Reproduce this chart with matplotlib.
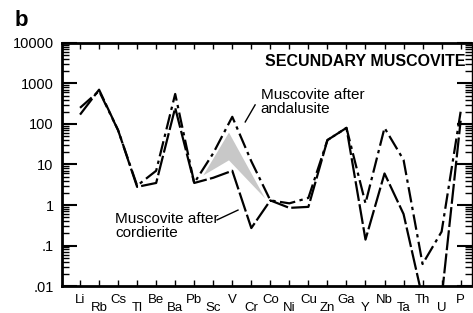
#!/usr/bin/env python3
import matplotlib
matplotlib.use("Agg")
import matplotlib.pyplot as plt
import numpy as np
from matplotlib.ticker import FixedLocator, LogLocator, NullFormatter

plt.rcParams['font.family'] = ['Liberation Sans', 'DejaVu Sans']

# Elements along the x axis
elements = ['Li', 'Rb', 'Cs', 'Tl', 'Be', 'Ba', 'Pb', 'Sc', 'V', 'Cr', 'Co',
            'Ni', 'Cu', 'Zn', 'Ga', 'Y', 'Nb', 'Ta', 'Th', 'U', 'P']

# Enrichment values
andalusite = [250, 650, 70, 3, 7, 550, 3.5, 19, 150, 12, 1.3,
              1.1, 1.5, 40, 80, 1.1, 80, 13, 0.035, 0.22, 200]
cordierite = [170, 700, 70, 2.8, 3.5, 250, 3.5, 4.7, 7, 0.27, 1.3,
              0.85, 0.9, 40, 80, 0.14, 6, 0.6, 0.005, 0.005, 120]

# Grey field between the two patterns
field_x = [6.45, 7.8, 9.7]
field_top = [5.5, 63, 1.5]
field_bottom = [5.5, 13, 1.5]

y_ticks = [0.01, 0.1, 1, 10, 100, 1000, 10000]
y_labels = ['.01', '.1', '1', '10', '100', '1000', '10000']

fig = plt.figure(figsize=(4.73, 3.13), dpi=100)
ax = fig.add_axes([0.131, 0.086, 0.867, 0.777])

x = np.arange(len(elements))
ax.fill_between(field_x, field_bottom, field_top, color='#c8c8c8', lw=0, zorder=1)
ax.plot(x, andalusite, color='black', lw=1.6, dashes=(7, 2, 1.5, 2), zorder=3)
ax.plot(x, cordierite, color='black', lw=1.6, dashes=(9, 1.5), zorder=2)

ax.set_yscale('log')
ax.set_ylim(0.01, 10000)
ax.set_xlim(-0.95, 20.6)

ax.yaxis.set_major_locator(FixedLocator(y_ticks))
ax.set_yticklabels(y_labels, fontsize=10.5)
ax.yaxis.set_minor_locator(LogLocator(base=10, subs=np.arange(2, 10)))
ax.yaxis.set_minor_formatter(NullFormatter())
ax.tick_params(axis='y', which='major', direction='in', length=11, width=1.5,
               left=True, right=True, pad=6)
ax.tick_params(axis='y', which='minor', direction='in', length=5, width=1,
               left=True, right=True)

ax.set_xticks(x)
ax.set_xticklabels([])
ax.tick_params(axis='x', which='major', direction='in', length=4, width=1,
               top=True, bottom=True)
ax.tick_params(axis='x', which='minor', bottom=False, top=False)

# staggered element labels
for i, el in enumerate(elements):
    yoff = -0.058 if i % 2 == 0 else -0.09
    ax.text(i, yoff, el, transform=ax.get_xaxis_transform(), ha='center',
            va='center', fontsize=9.5)

for side in ['left', 'bottom', 'top']:
    ax.spines[side].set_linewidth(2)
ax.spines['right'].set_linewidth(1)

ax.text(0.985, 0.925, 'SECUNDARY MUSCOVITE', transform=ax.transAxes,
        ha='right', va='center', fontsize=11.5, fontweight='bold')

ax.text(9.5, 350, 'Muscovite after\nandalusite', fontsize=11,
        ha='left', va='center', linespacing=1.0)
ax.plot([9.2, 8.68], [295, 112], color='black', lw=1)

ax.text(1.84, 0.3, 'Muscovite after\ncordierite', fontsize=11,
        ha='left', va='center', linespacing=1.0)
ax.plot([7.2, 8.3], [0.43, 0.75], color='black', lw=1)

fig.text(0.03, 0.935, 'b', fontsize=16, fontweight='bold', ha='left', va='center')

fig.savefig('out.png', dpi=100)
